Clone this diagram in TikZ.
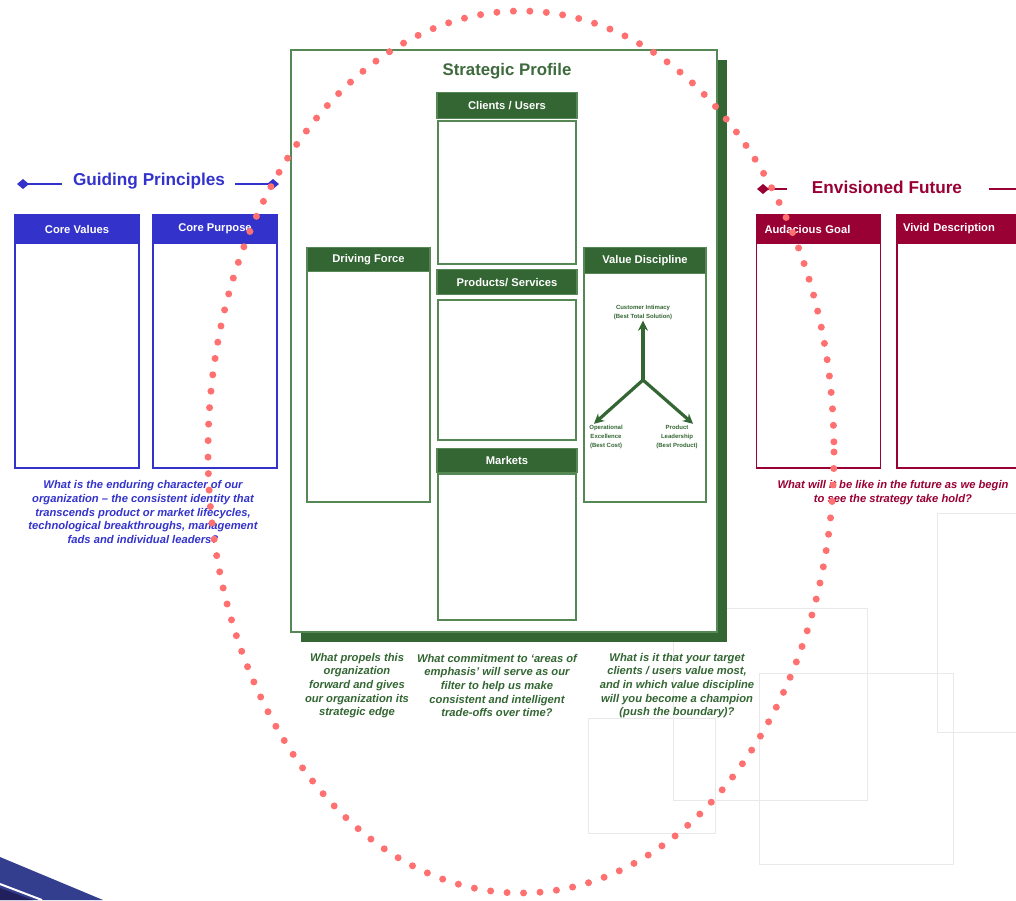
\documentclass[tikz,border=0pt]{standalone}
\usepackage{fontspec}
\setmainfont{Liberation Sans}
\usetikzlibrary{positioning,arrows.meta,calc}
\definecolor{gpblue}{RGB}{51,51,204}
\definecolor{spgreen}{RGB}{51,102,51}
\definecolor{spline}{RGB}{86,136,86}
\definecolor{sptitle}{RGB}{62,106,62}
\definecolor{efred}{RGB}{153,0,51}
\definecolor{dotred}{RGB}{255,112,112}
\definecolor{faint}{RGB}{233,233,233}
\definecolor{swoosh}{RGB}{52,62,142}
\definecolor{swooshdark}{RGB}{34,32,92}
\tikzset{
    gpbox/.style={draw=gpblue, fill=white, line width=0.8pt, minimum width=62pt, minimum height=126.5pt, inner sep=0pt},
    gphead/.style={draw=gpblue, fill=gpblue, line width=0.8pt, text=white, font=\bfseries\fontsize{5.6}{6}\selectfont, minimum width=62pt, minimum height=14pt, inner sep=0pt, anchor=north},
    spbox/.style={draw=spline, fill=white, line width=0.8pt, inner sep=0pt},
    sphead/.style={draw=spline, fill=spgreen, line width=0.6pt, text=white, font=\bfseries\fontsize{5.6}{6}\selectfont, inner sep=0pt},
    efbox/.style={draw=efred, fill=white, line width=0.8pt, minimum width=62pt, minimum height=126.5pt, inner sep=0pt},
    efhead/.style={draw=efred, fill=efred, line width=0.8pt, text=white, font=\bfseries\fontsize{5.6}{6}\selectfont, minimum height=14pt, inner xsep=4pt, inner ysep=0pt, text width=54pt, align=left, anchor=north},
    question/.style={font=\bfseries\itshape\fontsize{5.6}{6.85}\selectfont, align=center, inner sep=0pt},
    tinylabel/.style={font=\bfseries\fontsize{3}{4.5}\selectfont, text=spgreen, align=center, inner sep=0.5pt},
    thrust/.style={-{Stealth[length=5pt,width=5pt]}, line width=1.6pt, draw=spgreen},
    bannerline/.style={line width=1pt, {Diamond[length=6pt,width=5pt]}-},
    ringdots/.style={draw=dotred, line width=3.5pt, line cap=round, dash pattern=on 0pt off 8.25pt},
    ghost/.style={draw=faint, line width=0.5pt}
}
\begin{document}
\begin{tikzpicture}[x=0.5pt,y=-0.5pt]
\useasboundingbox (0,0) rectangle (1016,900);
% faint background frames
\draw[ghost] (588,718) rectangle (715,833);
\draw[ghost] (673,608) rectangle (867,800);
\draw[ghost] (759,673) rectangle (953,864);
\draw[ghost] (937,513) rectangle (1030,732);
% corner swoosh
\fill[swoosh] (0,857) -- (103,900) -- (0,900) -- cycle;
\fill[swooshdark] (0,888) -- (33,900) -- (0,900) -- cycle;
\draw[white, line width=1pt] (0,884) -- (42,900);

% guiding principles
\node[font=\bfseries\fontsize{8.6}{10}\selectfont, text=gpblue] (gptitle) at (149,181) {Guiding Principles};
\coordinate (gpleft) at (17,184);
\coordinate (gpright) at (279,184);
\draw[bannerline, draw=gpblue, fill=gpblue] (gpleft) -- ($(gptitle.west |- gpleft)+(-4,0)$);
\draw[bannerline, draw=gpblue, fill=gpblue] (gpright) -- ($(gptitle.east |- gpright)+(3,0)$);
\node[gpbox] (values) at (77,341.5) {};
\node[gphead] (valueshead) at (values.north) {Core Values};
\node[gpbox] (purpose) at (215,341.5) {};
\node[gphead] (purposehead) at (purpose.north) {Core Purpose};
\node[question, text=gpblue] (gpq) at (143,512) {What is the enduring character of our\\organization -- the consistent identity that\\transcends product or market lifecycles,\\technological breakthroughs, management\\fads and individual leaders?};

% strategic profile
\fill[spgreen] (301,60) rectangle (727,642);
\draw[spline, fill=white, line width=0.8pt] (291,50) rectangle (717,632);
\node[font=\bfseries\fontsize{8.4}{10}\selectfont, text=sptitle] (sptitle) at (507,71) {Strategic Profile};
\node[spbox, minimum width=69pt, minimum height=71.5pt] (clients) at (507,192.5) {};
\node[sphead, minimum width=70pt, minimum height=13pt, above=0.5pt of clients] (clientshead) {Clients / Users};
\node[spbox, minimum width=69pt, minimum height=70pt] (products) at (507,370) {};
\node[sphead, minimum width=70pt, minimum height=12.5pt, above=2pt of products] (productshead) {Products/ Services};
\node[spbox, minimum width=69pt, minimum height=73pt] (markets) at (507,547) {};
\node[sphead, minimum width=70pt, minimum height=12pt, above=0pt of markets] (marketshead) {Markets};
\node[spbox, minimum width=61.5pt, minimum height=127pt] (driving) at (368.5,375) {};
\node[sphead, minimum width=61.5pt, minimum height=12pt, anchor=north] (drivinghead) at (driving.north) {Driving Force};
\node[spbox, minimum width=61pt, minimum height=127pt] (discipline) at (645,375) {};
\node[sphead, minimum width=61pt, minimum height=13pt, anchor=north] (disciplinehead) at (discipline.north) {Value Discipline};
% value discipline triangle
\coordinate (hub) at (643,380);
\node[tinylabel] (intimacy) at (643,312) {Customer Intimacy\\(Best Total Solution)};
\node[tinylabel] (excellence) at (606,437) {Operational\\Excellence\\(Best Cost)};
\node[tinylabel] (leadership) at (677,437) {Product\\Leadership\\(Best Product)};
\draw[thrust] (hub) -- (intimacy.south);
\draw[thrust] (hub) -- ([xshift=3pt]excellence.north west);
\draw[thrust] (hub) -- ([xshift=-3pt]leadership.north east);
\node[question, text=spgreen] (drivingq) at (357,685.5) {What propels this\\organization\\forward and gives\\our organization its\\strategic edge};
\node[question, text=spgreen] (focusq) at (497,685.5) {What commitment to `areas of\\emphasis' will serve as our\\filter to help us make\\consistent and intelligent\\trade-offs over time?};
\node[question, text=spgreen] (disciplineq) at (677,685.5) {What is it that your target\\clients / users value most,\\and in which value discipline\\will you become a champion\\(push the boundary)?};

% envisioned future
\node[font=\bfseries\fontsize{8.6}{10}\selectfont, text=efred] (eftitle) at (887,187) {Envisioned Future};
\coordinate (efleft) at (757,189);
\coordinate (efright) at (1030,189);
\draw[bannerline, draw=efred, fill=efred] (efleft) -- ($(eftitle.west |- efleft)+(-18,0)$);
\draw[line width=1pt, draw=efred] ($(eftitle.east |- efright)+(20,0)$) -- (efright);
\node[efbox] (goal) at (818.5,341.5) {};
\node[efhead] (goalhead) at (goal.north) {Audacious Goal};
\node[efbox] (vivid) at (959,341.5) {};
\node[efhead, inner xsep=3pt, text width=56pt] (vividhead) at (vivid.north) {Vivid Description};
\node[question, text=efred] (efq) at (893,492.5) {What will it be like in the future as we begin\\to see the strategy take hold?};

% dotted ring
\draw[ringdots] (521,452) ellipse [x radius=313, y radius=441];
\end{tikzpicture}
\end{document}
